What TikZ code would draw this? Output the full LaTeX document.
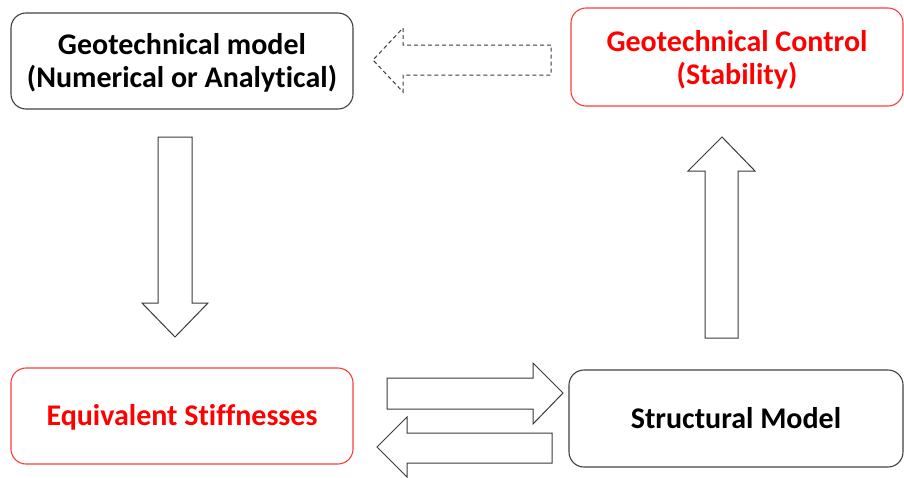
\documentclass[tikz,border=0pt]{standalone}
\usepackage{fontspec}
\setmainfont[Ligatures=NoCommon]{Carlito}
\definecolor{boxred}{HTML}{FF3B3B}
\definecolor{txtred}{HTML}{FF0000}
\definecolor{boxgray}{HTML}{404040}
\definecolor{arrgray}{HTML}{3A3A3A}
\newcommand\boxtext[2]{\raisebox{#1}[\height][\depth]{\begin{tabular}{@{}c@{}}#2\end{tabular}}}
\begin{document}
\begin{tikzpicture}[x=1pt,y=-1pt,
  box/.style={draw, rounded corners=15pt, line width=1.1pt,
    font=\fontsize{30}{33}\selectfont\bfseries, inner sep=0pt},
  blockarrow/.style={draw=arrgray, line width=1pt, fill=white, line join=miter}]
\useasboundingbox (0,0) rectangle (904,477);
\node[box, draw=boxgray, minimum width=342pt, minimum height=96pt] (geo) at (182,61)
  {\boxtext{-3pt}{Geotechnical model\\(Numerical or Analytical)}};
\node[box, draw=boxred, text=txtred, minimum width=332pt, minimum height=98pt] (ctrl) at (737,57)
  {\boxtext{-4pt}{Geotechnical Control\\(Stability)}};
\node[box, draw=boxred, text=txtred, minimum width=342pt, minimum height=96pt] (stiff) at (182,416)
  {\boxtext{-3pt}{Equivalent Stiffnesses}};
\node[box, draw=boxgray, minimum width=334pt, minimum height=97pt] (struct) at (736,418.5)
  {\boxtext{-3pt}{Structural Model}};
% dashed arrow ctrl -> geo
\draw[blockarrow, dashed, dash pattern=on 4pt off 3pt] (551,45) -- (403,45) -- (403,28) -- (373,60) -- (403,92) -- (403,75) -- (551,75) -- cycle;
% down arrow geo -> stiff
\draw[blockarrow] (158,137) -- (192,137) -- (192,303) -- (208,303) -- (175,337) -- (142,303) -- (158,303) -- cycle;
% up arrow struct -> ctrl
\draw[blockarrow] (705,338) -- (738,338) -- (738,171) -- (755,171) -- (722,137) -- (688,171) -- (705,171) -- cycle;
% right arrow stiff -> struct
\draw[blockarrow] (387,378) -- (533,378) -- (533,363) -- (563,393) -- (533,424) -- (533,409) -- (387,409) -- cycle;
% left arrow struct -> stiff
\draw[blockarrow] (552,433) -- (407,433) -- (407,417) -- (377,447) -- (407,477) -- (407,463) -- (552,463) -- cycle;
\end{tikzpicture}
\end{document}
